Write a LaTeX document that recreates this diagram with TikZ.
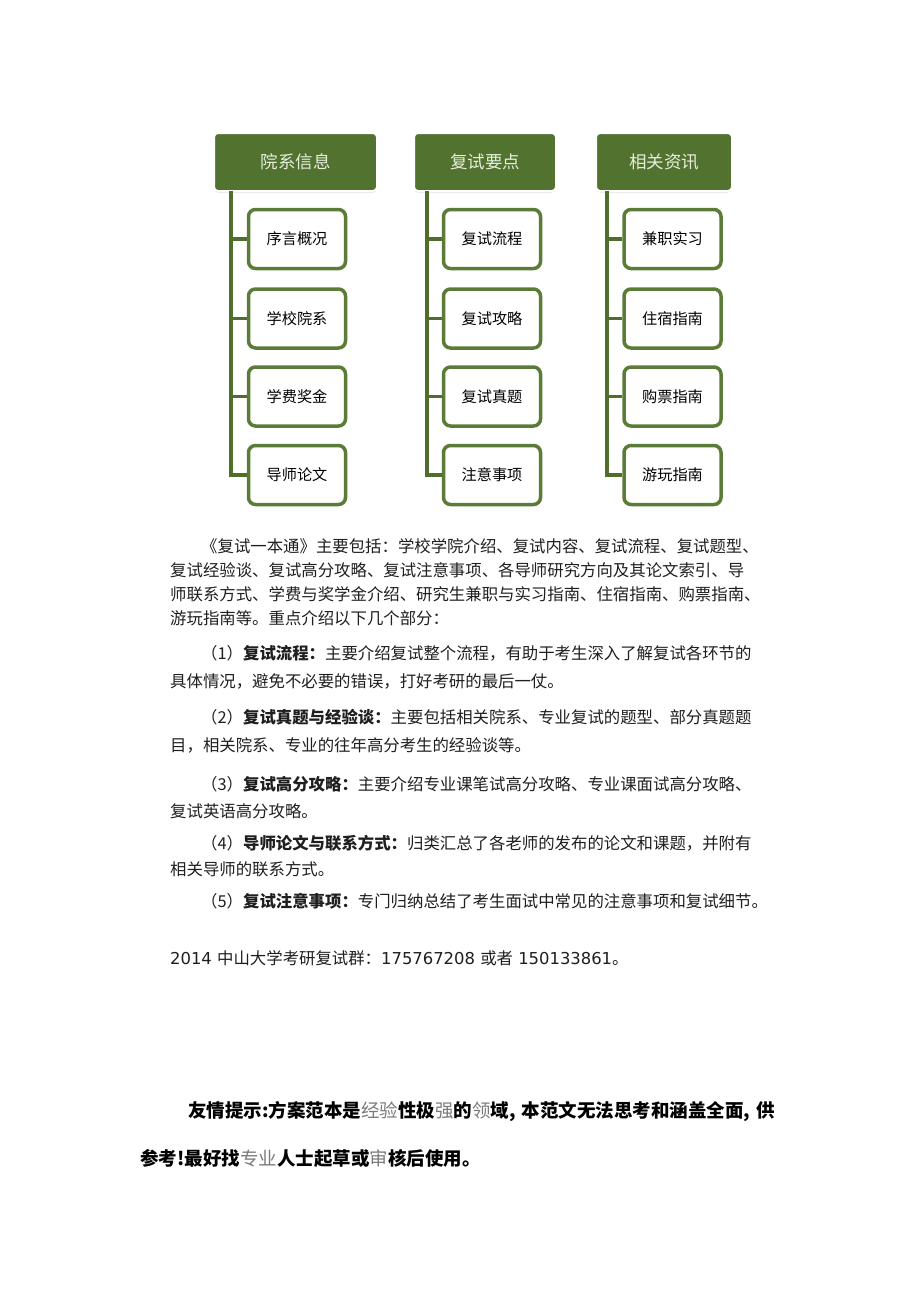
\documentclass[tikz,border=0pt]{standalone}
\usepackage{fontspec}
\setmainfont{Noto Sans CJK SC}
\newfontfamily\dvs{DejaVu Sans}
\usetikzlibrary{shadows}
\XeTeXinterchartokenstate=1
\newcommand\cjkgl{\hskip 0pt plus 1fil\relax}
\XeTeXinterchartoks 1 1 = {\cjkgl}
\XeTeXinterchartoks 1 2 = {\cjkgl}
\XeTeXinterchartoks 1 3 = {\cjkgl}
\XeTeXinterchartoks 2 1 = {\cjkgl}
\XeTeXinterchartoks 3 1 = {\cjkgl}
\XeTeXinterchartoks 3 2 = {\cjkgl}
\XeTeXinterchartoks 3 3 = {\cjkgl}
\XeTeXinterchartoks 2 2 = {\cjkgl}
\definecolor{hgreen}{HTML}{52722F}
\definecolor{kgreen}{HTML}{5B7C36}
\definecolor{lgreen}{HTML}{4F6E2C}
\definecolor{htext}{HTML}{E6EEDC}
\definecolor{tgray}{HTML}{7A7A7A}
\tikzset{
  hdr/.style={rectangle, rounded corners=4pt, fill=hgreen, draw=white, line width=2pt,
    text=htext, font=\fontsize{17.5}{20}\selectfont, inner sep=0pt, minimum height=58pt,
    drop shadow={shadow xshift=0pt, shadow yshift=-1.5pt, opacity=0.35, fill=black!40}},
  kid/.style={rectangle, rounded corners=7pt, fill=white, draw=kgreen, line width=3.5pt,
    font=\fontsize{15.2}{18}\selectfont, inner sep=0pt, minimum width=97pt, minimum height=59pt},
  conn/.style={draw=lgreen, line width=3.5pt},
  txt/.style={anchor=west, inner sep=0pt, font=\fontsize{16.4}{20}\selectfont, text=black!88,
    text height=14.4pt, text depth=2pt},
  tip/.style={anchor=west, inner sep=0pt, font=\fontsize{18.5}{22}\selectfont\bfseries, text=black,
    text height=16.3pt, text depth=2.2pt}
}
\begin{document}
\begin{tikzpicture}[x=1pt,y=-1pt]
\useasboundingbox[fill=white] (0,0) rectangle (920,1302);
% headers
\node[hdr, minimum width=163pt] (h1) at (295.5,162) {院系信息};
\node[hdr, minimum width=142pt] (h2) at (485,162) {复试要点};
\node[hdr, minimum width=136pt] (h3) at (664,162) {相关资讯};
% trunks
\coordinate (t1) at (231,191);
\coordinate (t2) at (427,191);
\coordinate (t3) at (607,191);
% children
\node[kid] (c11) at (297,239) {序言概况};
\node[kid] (c12) at (297,318.5) {学校院系};
\node[kid] (c13) at (297,396.5) {学费奖金};
\node[kid] (c14) at (297,475) {导师论文};
\node[kid] (c21) at (492,239) {复试流程};
\node[kid] (c22) at (492,318.5) {复试攻略};
\node[kid] (c23) at (492,396.5) {复试真题};
\node[kid] (c24) at (492,475) {注意事项};
\node[kid] (c31) at (672.5,239) {兼职实习};
\node[kid] (c32) at (672.5,318.5) {住宿指南};
\node[kid] (c33) at (672.5,396.5) {购票指南};
\node[kid] (c34) at (672.5,475) {游玩指南};
% connectors
\foreach \c in {1,2,3}{
  \draw[conn] (t\c) |- (c\c4.west);
  \foreach \k in {1,2,3}{
    \draw[conn] (t\c |- c\c\k.west) -- (c\c\k.west);
  }
}
% paragraph text
\node[txt] (p1) at (201,546) {\makebox[556pt][s]{《复试一本通》主要包括：学校学院介绍、复试内容、复试流程、复试题型、}};
\node[txt] (p2) at (170,570) {\makebox[587pt][s]{复试经验谈、复试高分攻略、复试注意事项、各导师研究方向及其论文索引、导}};
\node[txt] (p3) at (170,594) {\makebox[587pt][s]{师联系方式、学费与奖学金介绍、研究生兼职与实习指南、住宿指南、购票指南、}};
\node[txt] (p4) at (170,618) {游玩指南等。重点介绍以下几个部分：};
\node[txt] (q1) at (201,653) {\makebox[550pt][s]{（1）{\bfseries 复试流程：}主要介绍复试整个流程，有助于考生深入了解复试各环节的}};
\node[txt] (q1b) at (170,681) {具体情况，避免不必要的错误，打好考研的最后一仗。};
\node[txt] (q2) at (201,717) {\makebox[556pt][s]{（2）{\bfseries 复试真题与经验谈：}主要包括相关院系、专业复试的题型、部分真题题}};
\node[txt] (q2b) at (170,745) {目，相关院系、专业的往年高分考生的经验谈等。};
\node[txt] (q3) at (201,784) {\makebox[564pt][s]{（3）{\bfseries 复试高分攻略：}主要介绍专业课笔试高分攻略、专业课面试高分攻略、}};
\node[txt] (q3b) at (170,811) {复试英语高分攻略。};
\node[txt] (q4) at (201,843) {\makebox[546pt][s]{（4）{\bfseries 导师论文与联系方式：}归类汇总了各老师的发布的论文和课题，并附有}};
\node[txt] (q4b) at (170,869) {相关导师的联系方式。};
\node[txt] (q5) at (201,901) {（5）{\bfseries 复试注意事项：}专门归纳总结了考生面试中常见的注意事项和复试细节。};
\node[txt] (g) at (170,958) {{\dvs 2014 }中山大学考研复试群：{\dvs 175767208 }或者{\dvs\ 150133861}。};
% tip
\node[tip] (tp1) at (188,1110) {\makebox[587pt][s]{友情提示:方案范本是{\mdseries\color{tgray}经验}性极{\mdseries\color{tgray}强}的{\mdseries\color{tgray}领}域, 本范文无法思考和涵盖全面, 供}};
\node[tip] (tp2) at (140,1158) {参考!最好找{\mdseries\color{tgray}专业}人士起草或{\mdseries\color{tgray}审}核后使用。};
\end{tikzpicture}
\end{document}
